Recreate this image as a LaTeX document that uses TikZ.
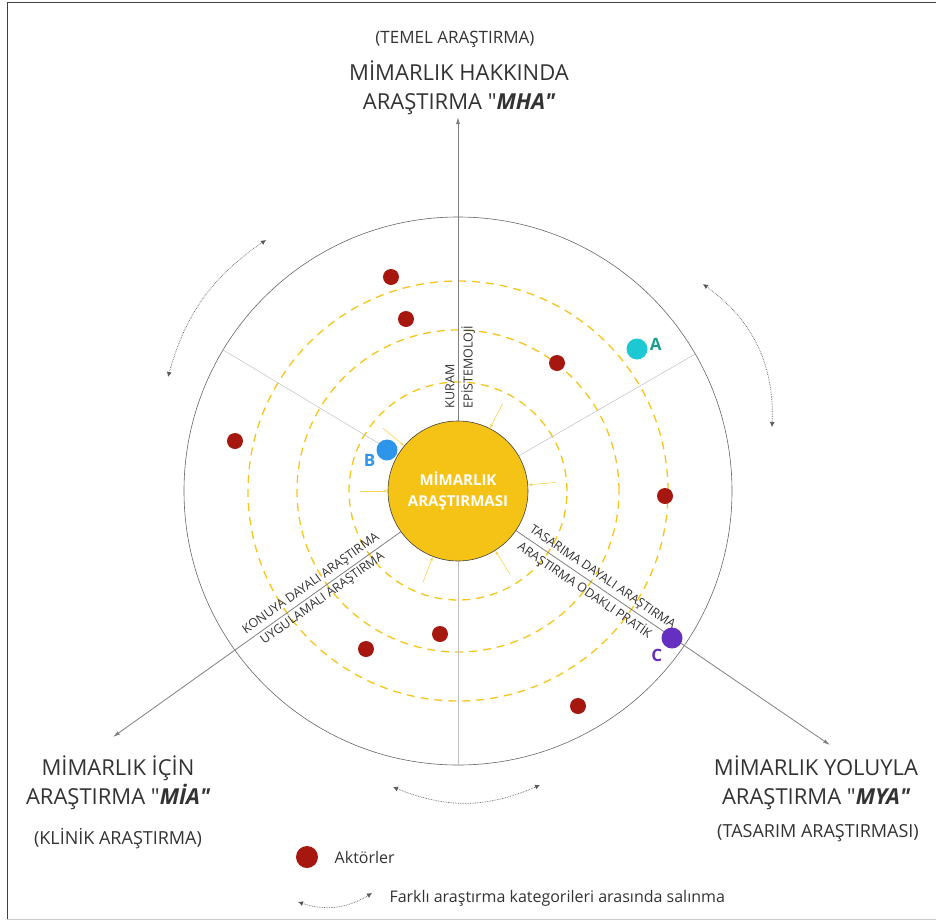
\documentclass[tikz,border=0pt]{standalone}
\usepackage{fontspec}
\setmainfont{Open Sans}
\usetikzlibrary{arrows.meta,positioning}
\definecolor{coreyellow}{HTML}{F5C315}
\definecolor{ringgold}{HTML}{F7C41A}
\definecolor{actorred}{HTML}{A5170F}
\definecolor{dotA}{HTML}{1CC8D2}
\definecolor{textA}{HTML}{1A9E8C}
\definecolor{dotB}{HTML}{2D96EB}
\definecolor{dotC}{HTML}{6530BF}
\definecolor{txt}{HTML}{333333}

\begin{document}
\begin{tikzpicture}[x=1pt,y=1pt,
    axis/.style={draw=black!50,line width=0.8pt,-{Latex[length=7pt,width=4pt]}},
    divider/.style={draw=black!25,line width=0.5pt},
    ring/.style={draw=ringgold,dash pattern=on 8pt off 6pt,line width=1.3pt},
    ray/.style={draw=ringgold!75,line width=0.6pt,-{Latex[length=4pt,width=3pt]}},
    swing/.style={draw=black!65,densely dotted,line width=0.7pt,{Latex[length=5pt,width=5pt]}-{Latex[length=5pt,width=5pt]}},
    actor/.style={circle,fill=actorred,minimum size=16pt,inner sep=0pt},
    letter/.style={font=\bfseries\fontsize{17}{20}\selectfont,inner sep=0pt},
    title/.style={font=\fontsize{22}{29}\selectfont,text=txt,align=center},
    sub/.style={font=\fontsize{18}{22}\selectfont,text=txt},
    tag/.style={font=\fontsize{12.5}{14}\selectfont,text=txt,inner sep=3pt},
    legend/.style={font=\fontsize{16}{19}\selectfont,text=txt}]
    \useasboundingbox (-458,491) rectangle (478,-431);
    \draw[black!75,line width=0.8pt] (-451,-428) -- (-451,489) -- (478,489);
    \draw[black!20,line width=0.8pt] (-451,-428) -- (478,-428);

    \draw[black!60,line width=0.6pt] (0,0) circle[radius=274];
    \foreach \r in {109,161,210}
        \draw[ring] (0,0) circle[radius=\r];

    \node[circle,fill=coreyellow,draw=black!75,line width=0.6pt,minimum size=140pt,
        text=white,font=\bfseries\fontsize{15}{21}\selectfont,align=center] (core) at (0,0) {MİMARLIK\\ARAŞTIRMASI};

    \foreach \a in {30,149,270}
        \draw[divider] (core.\a) -- (\a:274);
    \foreach \a in {5,63,140,180,249,302}
        \draw[ray] (\a:98) -- (core.\a);

    \coordinate (mhaTip) at (0,374);
    \coordinate (miaTip) at (-345,-246);
    \coordinate (myaTip) at (372,-254);
    \draw[axis] (core) -- (mhaTip)
        node[tag,sloped,pos=0.03,anchor=south west] {KURAM}
        node[tag,sloped,pos=0.03,anchor=north west] {EPİSTEMOLOJİ};
    \draw[axis] (core) -- (miaTip)
        node[tag,sloped,pos=0.05,anchor=south east] {KONUYA DAYALI ARAŞTIRMA}
        node[tag,sloped,pos=0.07,anchor=north east] {UYGULAMALI ARAŞTIRMA};
    \draw[axis] (core) -- (myaTip)
        node[tag,sloped,pos=0.02,anchor=south west] {TASARIMA DAYALI ARAŞTIRMA}
        node[tag,sloped,pos=0.02,anchor=north west] {ARAŞTIRMA ODAKLI PRATİK};

    \foreach \p [count=\i] in {(-67,214),(-52,172),(99,128),(-223,50),(207,-5),(-18,-143),(-92,-158),(120,-215)}
        \node[actor] (actor\i) at \p {};

    \node[actor,fill=dotA,minimum size=21pt] (a) at (179,142) {};
    \node[letter,text=textA,right=2pt of a,yshift=5pt] (labelA) {A};
    \node[actor,fill=dotB,minimum size=21pt] (b) at (-71,41) {};
    \node[letter,text=dotB,below left=-3pt and 4pt of b] (labelB) {B};
    \node[actor,fill=dotC,minimum size=21pt] (c) at (214,-147) {};
    \node[letter,text=dotC,below left=3pt and 2pt of c] (labelC) {C};

    \node[title] (mha) at (1,403) {MİMARLIK HAKKINDA\\ARAŞTIRMA \textquotedbl{\bfseries\itshape MHA\textquotedbl}};
    \node[sub,font=\fontsize{17}{20}\selectfont] (mhaSub) at (-3,452) {(TEMEL ARAŞTIRMA)};
    \node[title] (mia) at (-340,-292) {MİMARLIK İÇİN\\ARAŞTIRMA \textquotedbl{\bfseries\itshape MİA\textquotedbl}};
    \node[sub] (miaSub) at (-340,-348) {(KLİNİK ARAŞTIRMA)};
    \node[title] (mya) at (358,-292) {MİMARLIK YOLUYLA\\ARAŞTIRMA \textquotedbl{\bfseries\itshape MYA\textquotedbl}};
    \node[sub] (myaSub) at (360,-342) {(TASARIM ARAŞTIRMASI)};

    \coordinate (swingTL1) at (-192,251);
    \coordinate (swingTL2) at (-290,114);
    \coordinate (swingTR1) at (245,207);
    \coordinate (swingTR2) at (314,64);
    \coordinate (swingB1) at (-65,-296);
    \coordinate (swingB2) at (82,-294);
    \draw[swing] (swingTL1) to[bend right=20] (swingTL2);
    \draw[swing] (swingTR1) to[bend left=28] (swingTR2);
    \draw[swing] (swingB1) to[bend right=23] (swingB2);

    \node[actor,minimum size=22pt] (legendDot) at (-151,-366) {};
    \node[legend,right=13pt of legendDot] (legendActor) {Aktörler};
    \coordinate (legendL) at (-160,-411);
    \coordinate (legendR) at (-86,-402);
    \draw[swing] (legendL) to[bend right=25] (legendR);
    \node[legend,anchor=west] (legendSwing) at (-72,-407) {Farklı araştırma kategorileri arasında salınma};
\end{tikzpicture}
\end{document}
